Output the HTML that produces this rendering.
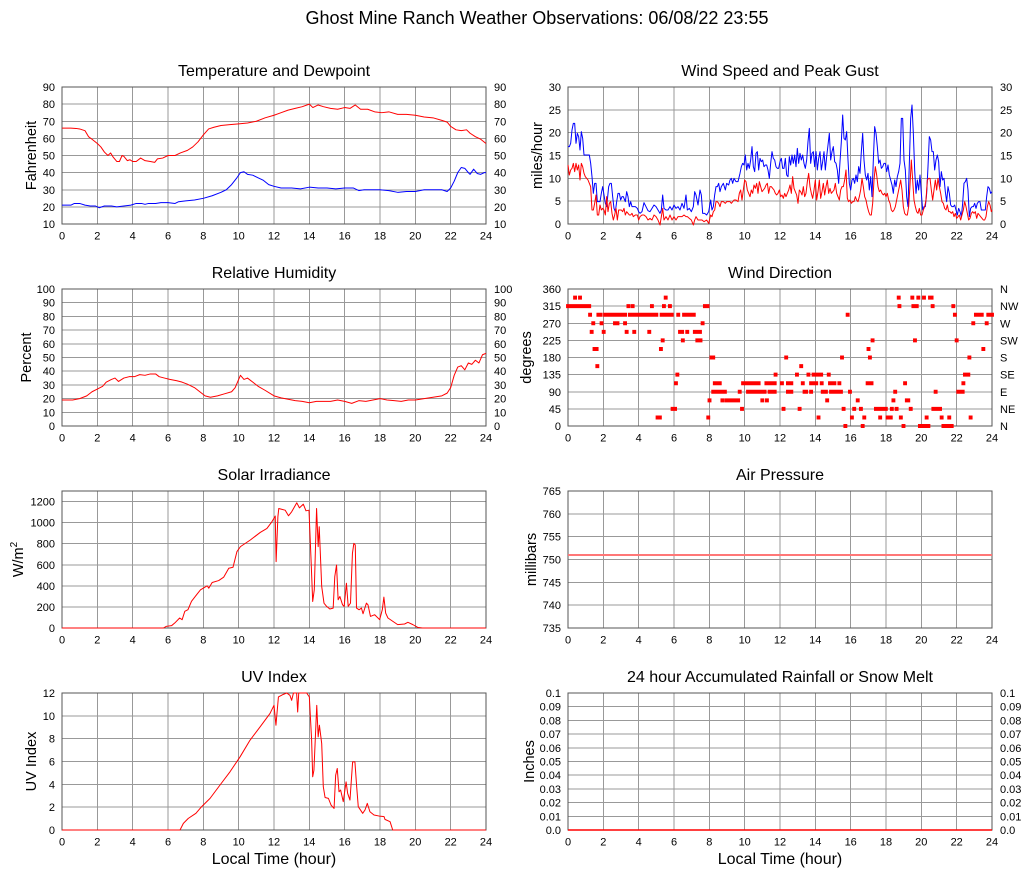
<!DOCTYPE html>
<html>
<head>
<meta charset="utf-8">
<style>
html,body{margin:0;padding:0;background:#fff;}
svg{display:block;}
text{font-family:"Liberation Sans",Arial,Helvetica,sans-serif;fill:#000;}
.g{stroke:#999;stroke-width:1;fill:none;shape-rendering:crispEdges;}
.f{stroke:#555;stroke-width:1;fill:none;shape-rendering:crispEdges;}
.d{fill:none;stroke-width:1;vector-effect:non-scaling-stroke;stroke-linejoin:round;}
.sq{fill:none;stroke:#f00;stroke-width:4;vector-effect:non-scaling-stroke;}
</style>
</head>
<body>
<svg width="1027" height="878" viewBox="0 0 1027 878" xmlns="http://www.w3.org/2000/svg">
<rect width="1027" height="878" fill="#fff"/>
<defs>
<path id="vgL" d="M97.33 0V137M132.67 0V137M168 0V137M203.33 0V137M238.67 0V137M274 0V137M309.33 0V137M344.67 0V137M380 0V137M415.33 0V137M450.67 0V137"/>
</defs>

<text x="537" y="24" font-size="18" text-anchor="middle">Ghost Mine Ranch Weather Observations: 06/08/22 23:55</text>

<g font-size="16" text-anchor="middle">
<text x="274" y="76">Temperature and Dewpoint</text>
<text x="780" y="76">Wind Speed and Peak Gust</text>
<text x="274" y="278">Relative Humidity</text>
<text x="780" y="278">Wind Direction</text>
<text x="274" y="480">Solar Irradiance</text>
<text x="780" y="480">Air Pressure</text>
<text x="274" y="682">UV Index</text>
<text x="780" y="682">24 hour Accumulated Rainfall or Snow Melt</text>
<text x="274" y="864">Local Time (hour)</text>
<text x="780" y="864">Local Time (hour)</text>
</g>

<g font-size="14.5" text-anchor="middle">
<text transform="translate(36 155.5) rotate(-90)">Fahrenheit</text>
<text transform="translate(31 357.5) rotate(-90)">Percent</text>
<text transform="translate(23 559.5) rotate(-90)">W/m<tspan dy="-6" font-size="10">2</tspan></text>
<text transform="translate(36 761.5) rotate(-90)">UV Index</text>
<text transform="translate(542 155.5) rotate(-90)">miles/hour</text>
<text transform="translate(531 357.5) rotate(-90)">degrees</text>
<text transform="translate(536 559.5) rotate(-90)">millibars</text>
<text transform="translate(534 761.5) rotate(-90)">Inches</text>
</g>

<g class="g">
<use href="#vgL" x="0" y="87"/>
<use href="#vgL" x="0" y="289"/>
<use href="#vgL" x="0" y="491"/>
<use href="#vgL" x="0" y="693"/>
<use href="#vgL" x="506" y="87"/>
<use href="#vgL" x="506" y="289"/>
<use href="#vgL" x="506" y="491"/>
<use href="#vgL" x="506" y="693"/>
</g>
<g class="g">
<path d="M62 104.125H486M62 121.25H486M62 138.375H486M62 155.5H486M62 172.625H486M62 189.75H486M62 206.875H486"/>
<path d="M62 302.7H486M62 316.4H486M62 330.1H486M62 343.8H486M62 357.5H486M62 371.2H486M62 384.9H486M62 398.6H486M62 412.3H486"/>
<path d="M62 501.54H486M62 522.62H486M62 543.69H486M62 564.77H486M62 585.85H486M62 606.92H486"/>
<path d="M62 715.83H486M62 738.67H486M62 761.5H486M62 784.33H486M62 807.17H486"/>
<path d="M568 109.83H992M568 132.67H992M568 155.5H992M568 178.33H992M568 201.17H992"/>
<path d="M568 306.125H992M568 323.25H992M568 340.375H992M568 357.5H992M568 374.625H992M568 391.75H992M568 408.875H992"/>
<path d="M568 513.83H992M568 536.67H992M568 559.5H992M568 582.33H992M568 605.17H992"/>
<path d="M568 706.7H992M568 720.4H992M568 734.1H992M568 747.8H992M568 761.5H992M568 775.2H992M568 788.9H992M568 802.6H992M568 816.3H992"/>
</g>
<g class="f">
<rect x="62" y="87" width="424" height="137"/>
<rect x="62" y="289" width="424" height="137"/>
<rect x="62" y="491" width="424" height="137"/>
<rect x="62" y="693" width="424" height="137"/>
<rect x="568" y="87" width="424" height="137"/>
<rect x="568" y="289" width="424" height="137"/>
<rect x="568" y="491" width="424" height="137"/>
<rect x="568" y="693" width="424" height="137"/>
</g>

<g font-size="11" text-anchor="middle">
<text x="62" y="239.5">0</text><text x="97.3" y="239.5">2</text><text x="132.7" y="239.5">4</text><text x="168" y="239.5">6</text><text x="203.3" y="239.5">8</text><text x="238.7" y="239.5">10</text><text x="274" y="239.5">12</text><text x="309.3" y="239.5">14</text><text x="344.7" y="239.5">16</text><text x="380" y="239.5">18</text><text x="415.3" y="239.5">20</text><text x="450.7" y="239.5">22</text><text x="486" y="239.5">24</text>
<text x="568" y="239.5">0</text><text x="603.3" y="239.5">2</text><text x="638.7" y="239.5">4</text><text x="674" y="239.5">6</text><text x="709.3" y="239.5">8</text><text x="744.7" y="239.5">10</text><text x="780" y="239.5">12</text><text x="815.3" y="239.5">14</text><text x="850.7" y="239.5">16</text><text x="886" y="239.5">18</text><text x="921.3" y="239.5">20</text><text x="956.7" y="239.5">22</text><text x="992" y="239.5">24</text>
<text x="62" y="441.5">0</text><text x="97.3" y="441.5">2</text><text x="132.7" y="441.5">4</text><text x="168" y="441.5">6</text><text x="203.3" y="441.5">8</text><text x="238.7" y="441.5">10</text><text x="274" y="441.5">12</text><text x="309.3" y="441.5">14</text><text x="344.7" y="441.5">16</text><text x="380" y="441.5">18</text><text x="415.3" y="441.5">20</text><text x="450.7" y="441.5">22</text><text x="486" y="441.5">24</text>
<text x="568" y="441.5">0</text><text x="603.3" y="441.5">2</text><text x="638.7" y="441.5">4</text><text x="674" y="441.5">6</text><text x="709.3" y="441.5">8</text><text x="744.7" y="441.5">10</text><text x="780" y="441.5">12</text><text x="815.3" y="441.5">14</text><text x="850.7" y="441.5">16</text><text x="886" y="441.5">18</text><text x="921.3" y="441.5">20</text><text x="956.7" y="441.5">22</text><text x="992" y="441.5">24</text>
<text x="62" y="643.5">0</text><text x="97.3" y="643.5">2</text><text x="132.7" y="643.5">4</text><text x="168" y="643.5">6</text><text x="203.3" y="643.5">8</text><text x="238.7" y="643.5">10</text><text x="274" y="643.5">12</text><text x="309.3" y="643.5">14</text><text x="344.7" y="643.5">16</text><text x="380" y="643.5">18</text><text x="415.3" y="643.5">20</text><text x="450.7" y="643.5">22</text><text x="486" y="643.5">24</text>
<text x="568" y="643.5">0</text><text x="603.3" y="643.5">2</text><text x="638.7" y="643.5">4</text><text x="674" y="643.5">6</text><text x="709.3" y="643.5">8</text><text x="744.7" y="643.5">10</text><text x="780" y="643.5">12</text><text x="815.3" y="643.5">14</text><text x="850.7" y="643.5">16</text><text x="886" y="643.5">18</text><text x="921.3" y="643.5">20</text><text x="956.7" y="643.5">22</text><text x="992" y="643.5">24</text>
<text x="62" y="845.5">0</text><text x="97.3" y="845.5">2</text><text x="132.7" y="845.5">4</text><text x="168" y="845.5">6</text><text x="203.3" y="845.5">8</text><text x="238.7" y="845.5">10</text><text x="274" y="845.5">12</text><text x="309.3" y="845.5">14</text><text x="344.7" y="845.5">16</text><text x="380" y="845.5">18</text><text x="415.3" y="845.5">20</text><text x="450.7" y="845.5">22</text><text x="486" y="845.5">24</text>
<text x="568" y="845.5">0</text><text x="603.3" y="845.5">2</text><text x="638.7" y="845.5">4</text><text x="674" y="845.5">6</text><text x="709.3" y="845.5">8</text><text x="744.7" y="845.5">10</text><text x="780" y="845.5">12</text><text x="815.3" y="845.5">14</text><text x="850.7" y="845.5">16</text><text x="886" y="845.5">18</text><text x="921.3" y="845.5">20</text><text x="956.7" y="845.5">22</text><text x="992" y="845.5">24</text>
</g>

<g font-size="11" text-anchor="end">
<text x="55" y="228">10</text><text x="55" y="210.9">20</text><text x="55" y="193.75">30</text><text x="55" y="176.6">40</text><text x="55" y="159.5">50</text><text x="55" y="142.4">60</text><text x="55" y="125.25">70</text><text x="55" y="108.1">80</text><text x="55" y="91">90</text>
<text x="55" y="430">0</text><text x="55" y="416.3">10</text><text x="55" y="402.6">20</text><text x="55" y="388.9">30</text><text x="55" y="375.2">40</text><text x="55" y="361.5">50</text><text x="55" y="347.8">60</text><text x="55" y="334.1">70</text><text x="55" y="320.4">80</text><text x="55" y="306.7">90</text><text x="55" y="293">100</text>
<text x="55" y="632">0</text><text x="55" y="610.9">200</text><text x="55" y="589.85">400</text><text x="55" y="568.8">600</text><text x="55" y="547.7">800</text><text x="55" y="526.6">1000</text><text x="55" y="505.5">1200</text>
<text x="55" y="834">0</text><text x="55" y="811.2">2</text><text x="55" y="788.3">4</text><text x="55" y="765.5">6</text><text x="55" y="742.7">8</text><text x="55" y="719.8">10</text><text x="55" y="697">12</text>
<text x="561" y="228">0</text><text x="561" y="205.2">5</text><text x="561" y="182.3">10</text><text x="561" y="159.5">15</text><text x="561" y="136.7">20</text><text x="561" y="113.8">25</text><text x="561" y="91">30</text>
<text x="561" y="430">0</text><text x="561" y="412.9">45</text><text x="561" y="395.75">90</text><text x="561" y="378.6">135</text><text x="561" y="361.5">180</text><text x="561" y="344.4">225</text><text x="561" y="327.25">270</text><text x="561" y="310.1">315</text><text x="561" y="293">360</text>
<text x="561" y="632">735</text><text x="561" y="609.2">740</text><text x="561" y="586.3">745</text><text x="561" y="563.5">750</text><text x="561" y="540.7">755</text><text x="561" y="517.8">760</text><text x="561" y="495">765</text>
<text x="561" y="834">0.0</text><text x="561" y="820.3">0.01</text><text x="561" y="806.6">0.02</text><text x="561" y="792.9">0.03</text><text x="561" y="779.2">0.04</text><text x="561" y="765.5">0.05</text><text x="561" y="751.8">0.06</text><text x="561" y="738.1">0.07</text><text x="561" y="724.4">0.08</text><text x="561" y="710.7">0.09</text><text x="561" y="697">0.1</text>
</g>

<g font-size="11" text-anchor="start">
<text x="494" y="228">10</text><text x="494" y="210.9">20</text><text x="494" y="193.75">30</text><text x="494" y="176.6">40</text><text x="494" y="159.5">50</text><text x="494" y="142.4">60</text><text x="494" y="125.25">70</text><text x="494" y="108.1">80</text><text x="494" y="91">90</text>
<text x="494" y="430">0</text><text x="494" y="416.3">10</text><text x="494" y="402.6">20</text><text x="494" y="388.9">30</text><text x="494" y="375.2">40</text><text x="494" y="361.5">50</text><text x="494" y="347.8">60</text><text x="494" y="334.1">70</text><text x="494" y="320.4">80</text><text x="494" y="306.7">90</text><text x="494" y="293">100</text>
<text x="1000" y="228">0</text><text x="1000" y="205.2">5</text><text x="1000" y="182.3">10</text><text x="1000" y="159.5">15</text><text x="1000" y="136.7">20</text><text x="1000" y="113.8">25</text><text x="1000" y="91">30</text>
<text x="1000" y="430">N</text><text x="1000" y="412.9">NE</text><text x="1000" y="395.75">E</text><text x="1000" y="378.6">SE</text><text x="1000" y="361.5">S</text><text x="1000" y="344.4">SW</text><text x="1000" y="327.25">W</text><text x="1000" y="310.1">NW</text><text x="1000" y="293">N</text>
<text x="1000" y="834">0.0</text><text x="1000" y="820.3">0.01</text><text x="1000" y="806.6">0.02</text><text x="1000" y="792.9">0.03</text><text x="1000" y="779.2">0.04</text><text x="1000" y="765.5">0.05</text><text x="1000" y="751.8">0.06</text><text x="1000" y="738.1">0.07</text><text x="1000" y="724.4">0.08</text><text x="1000" y="710.7">0.09</text><text x="1000" y="697">0.1</text>
</g>

<g transform="translate(62 241.125) scale(17.6667 -1.7125)">
<polyline class="d" stroke="#00f" points="0,21 0.5,21 0.7,22 1,22 1.3,21 1.6,20.5 1.9,20.5 2.1,19.5 2.4,20.5 2.8,20.5 3.1,20 3.5,20.5 3.9,21 4.2,22 4.5,22 4.7,21.5 4.9,22 5.3,22 5.6,22.5 6,22.5 6.4,22 6.6,23 7,23.5 7.5,24 8,25 8.5,26.5 9,28.5 9.3,30 9.6,33 9.9,37 10.1,40 10.3,40.5 10.5,39 10.8,38.5 11.1,37 11.4,35.5 11.7,33 12,32 12.4,31 13,31 13.5,30.5 14,31.5 14.5,31 15,31 15.5,30.5 16,31 16.5,31 16.8,29.5 17.1,30 17.5,30 18,30 18.5,29.5 19,28.5 19.5,29 20,29 20.5,30 21,30 21.5,30 21.8,29 22,31 22.2,35 22.4,40 22.6,43 22.8,42.5 23,40 23.1,39 23.3,42 23.5,39.5 23.7,39 23.9,40 24,40"/>
<polyline class="d" stroke="#f00" points="0,66 0.5,66 0.8,65.8 1,65.5 1.3,64.5 1.5,61 1.7,59.5 2,57 2.2,55 2.4,52 2.6,50 2.75,51.5 2.9,49 3.1,46.5 3.25,46.5 3.4,50 3.5,49.5 3.7,47 3.85,47.5 4,46.5 4.2,46.5 4.45,48.5 4.7,47 5,46.5 5.25,46 5.4,48 5.7,48.5 6,50 6.4,50 6.7,51.5 7.1,53 7.4,55 7.7,58 8,62 8.3,65.5 8.6,66.5 9,67.5 9.5,68 10,68.5 10.5,69 11,70 11.5,72 12,73.5 12.4,75 12.8,76.5 13.2,77.5 13.6,78.5 14,80 14.2,78 14.5,79.5 14.8,78.5 15.2,77.5 15.6,77 16,78 16.3,77.5 16.6,79.5 16.9,77 17.3,77 17.7,75.5 18.1,75 18.5,75.5 19,74 19.5,74 20,73.5 20.5,72.5 21,72 21.5,70.5 21.8,69.5 22,67 22.3,65 22.6,64.5 22.9,65 23.1,63 23.4,61 23.7,59.5 24,57"/>
</g>

<g transform="translate(62 426) scale(17.6667 -1.37)">
<polyline class="d" stroke="#f00" points="0,19 0.6,19 1,20 1.4,22 1.7,25 2,27 2.3,29 2.5,32 2.8,34 3,35 3.2,32.5 3.5,35 3.8,36 4.1,36 4.4,37.5 4.7,37 5,38 5.3,38 5.5,36 5.8,35 6.1,34 6.5,33 6.8,32 7.1,30.5 7.5,28 7.8,25 8.1,22 8.4,21 8.8,22 9.2,23.5 9.6,25 9.8,28 10,34 10.1,37 10.3,34 10.5,35 10.8,32 11.1,29 11.5,26 12,22 12.4,20.5 12.8,19.5 13.2,18.5 13.6,18 14,17 14.4,18 14.8,18 15.2,18 15.6,19 16,18 16.4,16.5 16.8,18.5 17.2,18 17.6,19 18,20 18.4,19 18.8,18.5 19.2,18 19.6,19 20,19 20.5,20 21,21 21.5,22 21.8,24 22,28 22.2,37 22.4,43 22.6,44 22.8,41 23,46 23.2,45 23.4,48 23.6,46 23.8,52 24,53"/>
</g>

<g transform="translate(62 628) scale(17.6667 -0.105385)">
<polyline class="d" stroke="#f00" points="0,0 5.74,0 5.91,16 6.2,22 6.38,47 6.66,95 6.8,79 6.95,158 7.13,174 7.33,253 7.62,316 7.84,362 8.22,400 8.31,378 8.5,432 8.87,450 9.15,482 9.44,567 9.68,576 9.9,724 10.1,772 10.66,835 11.22,907 11.6,945 11.88,1008 12.07,1062 12.12,630 12.22,1055 12.27,1134 12.4,1128 12.63,1118 12.82,1065 13,1103 13.29,1188 13.44,1140 13.66,1175 13.81,1112 13.98,1118 14.09,677 14.19,252 14.28,362 14.41,1134 14.5,772 14.56,961 14.7,394 14.83,236 14.98,205 15.16,180 15.35,189 15.44,488 15.54,598 15.63,268 15.73,299 15.88,220 15.97,205 16.1,425 16.2,205 16.33,236 16.44,709 16.52,803 16.6,788 16.67,189 16.82,173 16.95,189 17.04,135 17.23,236 17.32,220 17.46,110 17.7,126 17.98,79 18.13,173 18.22,293 18.32,142 18.45,95 18.73,63 19,32 19.39,38 19.58,54 19.86,32 20.13,6 20.4,0 24,0"/>
</g>

<g transform="translate(62 830) scale(17.6667 -11.4167)">
<polyline class="d" stroke="#f00" points="0,0 6.68,0 6.87,0.58 7.15,1.02 7.58,1.46 7.9,2.04 8.38,2.77 8.94,3.93 9.51,5.1 10.08,6.41 10.64,7.86 11.21,9.03 11.77,10.2 12,10.92 12.11,9.18 12.25,11.65 12.53,11.88 12.72,12 12.9,11.8 13,11.36 13.1,12 13.28,12 13.34,10.34 13.4,12 13.85,12 14,11.65 14.13,7.86 14.19,4.66 14.26,5.24 14.42,10.92 14.5,8.16 14.57,9.18 14.7,7.57 14.79,3.79 14.89,2.85 15.08,2.77 15.23,2.18 15.4,1.89 15.49,4.8 15.58,5.39 15.68,3.35 15.77,3.5 15.92,2.48 16.08,4.22 16.17,3.2 16.3,2.62 16.45,5.97 16.58,5.97 16.68,3.79 16.77,2.04 17.02,1.46 17.15,1.75 17.28,2.33 17.43,1.6 17.66,1.31 17.96,1.22 18.23,1.17 18.28,0.93 18.57,0.73 18.72,0 24,0"/>
</g>

<g transform="translate(560 80) scale(0.333333)">
<polyline class="d" stroke="#00f" points="24,200 28,200 32,190 36,150 40,130 44,130 48,190 52,160 56,170 60,210 64,155 68,175 72,225 80,225 88,225 92,250 96,290 100,340 104,310 108,310 112,365 116,365 120,365 124,340 128,320 132,345 136,370 140,380 146,320 150,310 154,310 158,350 162,385 166,395 170,365 174,340 178,340 182,360 186,350 190,350 196,365 200,335 204,350 208,380 212,365 216,380 220,380 226,380 232,385 236,395 240,400 246,395 252,368 258,380 264,392 270,395 276,385 282,375 288,380 294,390 300,400 304,390 308,345 312,385 318,390 324,390 330,380 336,390 342,375 348,385 354,380 360,390 366,370 372,385 378,345 382,390 388,385 394,395 400,380 404,335 408,345 414,375 420,330 424,345 428,400 434,400 440,405 446,395 452,360 456,390 460,380 464,345 468,320 472,320 476,310 480,335 484,320 490,310 496,330 500,310 506,315 510,300 514,295 518,310 522,295 528,305 534,305 540,280 544,260 548,250 552,255 556,225 560,270 564,250 568,265 572,240 576,200 580,260 584,275 588,220 592,215 596,270 600,235 604,245 608,240 612,260 616,255 620,255 624,270 628,295 632,250 636,215 640,235 644,240 648,260 652,265 656,265 660,245 664,235 668,265 672,265 676,235 680,285 684,290 688,230 692,255 696,225 700,250 704,225 708,260 712,205 716,250 720,220 724,240 728,225 732,250 736,265 740,240 744,185 748,145 752,250 756,220 760,215 764,260 768,215 772,270 776,235 780,215 784,270 788,245 792,215 796,270 800,230 804,195 808,160 812,240 816,215 820,200 824,245 828,250 832,270 836,310 840,245 844,185 848,105 852,175 856,180 860,155 864,240 868,310 872,330 876,300 880,295 884,310 888,285 892,305 896,260 900,280 904,215 908,160 912,240 916,285 920,300 924,280 928,330 932,290 936,350 940,240 944,140 948,160 952,200 956,250 960,240 964,265 968,260 972,250 976,250 980,275 984,255 988,285 992,300 996,315 1000,340 1004,300 1008,320 1012,290 1016,275 1020,250 1024,115 1028,115 1032,240 1036,270 1040,350 1044,380 1048,250 1052,115 1056,75 1060,160 1064,270 1068,340 1072,300 1076,330 1080,285 1084,340 1088,390 1092,380 1096,380 1100,340 1104,260 1108,170 1112,180 1116,215 1120,215 1124,270 1128,240 1132,225 1136,245 1140,320 1144,275 1148,300 1152,295 1156,335 1160,365 1164,320 1168,340 1172,375 1176,380 1180,380 1184,375 1188,390 1192,405 1196,385 1200,395 1204,410 1208,370 1212,310 1216,305 1220,295 1224,330 1228,410 1232,385 1236,380 1240,380 1244,370 1248,385 1252,370 1256,365 1260,365 1264,390 1268,390 1272,390 1276,390 1280,350 1284,320 1288,325 1292,340 1296,335"/>
<polyline class="d" stroke="#f00" points="24,255 28,285 32,270 36,265 40,250 44,275 48,250 52,270 56,255 60,300 64,250 68,260 72,280 76,290 80,295 84,300 88,310 92,320 96,390 100,390 104,370 108,345 112,405 116,405 120,375 124,390 128,385 132,390 136,405 140,350 144,395 148,370 152,365 156,400 160,420 164,405 168,385 172,420 176,390 180,390 184,390 188,395 192,385 196,405 200,395 204,400 208,405 212,405 216,400 220,410 226,405 232,405 236,420 240,410 246,405 252,405 258,410 264,420 270,415 276,420 282,405 288,410 294,420 300,435 304,410 308,385 312,420 318,410 324,420 330,405 336,420 342,410 348,420 354,410 360,410 366,410 372,405 378,410 382,410 388,415 394,420 400,435 404,420 408,410 414,420 420,420 426,420 432,425 440,420 446,430 452,405 456,410 460,395 464,390 468,365 472,365 476,370 480,380 484,365 490,365 496,370 500,365 506,365 510,365 514,370 518,365 522,360 528,360 534,365 538,340 542,330 546,360 550,330 554,300 558,305 562,330 566,340 570,350 574,330 578,340 582,315 586,325 590,310 594,340 598,305 602,320 606,335 610,330 614,325 618,315 622,310 626,340 630,320 634,320 638,325 642,330 646,340 650,345 654,340 658,330 662,350 666,345 670,355 674,340 678,350 682,340 686,330 690,315 694,340 698,290 702,325 706,335 710,345 714,370 718,330 722,335 726,345 730,320 734,350 738,340 742,305 746,280 750,320 754,340 758,355 762,330 766,300 770,360 774,335 778,300 782,355 786,335 790,310 794,345 798,320 802,300 806,340 810,325 814,340 818,335 822,330 826,310 830,340 834,350 838,360 842,330 846,320 850,320 854,300 858,270 862,355 866,365 870,360 874,370 878,365 882,365 886,350 890,360 894,365 898,350 902,330 906,295 910,320 914,350 918,360 922,380 926,395 930,405 934,405 938,370 942,300 946,260 950,285 954,320 958,335 962,330 966,340 970,345 974,340 978,350 982,340 986,360 990,370 994,390 998,395 1002,390 1006,380 1010,360 1014,340 1018,320 1022,300 1026,330 1030,380 1034,400 1038,405 1042,405 1046,380 1050,315 1054,240 1058,300 1062,360 1066,380 1070,395 1074,400 1078,385 1082,405 1086,405 1090,390 1094,380 1098,360 1102,300 1106,295 1110,295 1114,330 1118,360 1122,330 1126,300 1130,330 1134,295 1138,320 1142,340 1146,365 1150,370 1154,385 1158,390 1162,375 1166,395 1170,395 1174,400 1178,395 1182,410 1186,400 1190,415 1194,410 1198,405 1202,420 1206,405 1210,390 1214,365 1218,380 1222,400 1226,420 1230,415 1234,400 1238,395 1242,400 1246,395 1250,415 1254,400 1258,405 1262,410 1266,415 1270,420 1274,420 1278,410 1282,380 1286,365 1290,375 1294,395 1296,390"/>
</g>

<g transform="translate(568 426) scale(17.6667 -8.5625)">
<path class="sq" d="M-0.11 14H1.31M3.31 14H3.53M3.55 14H3.77M4.64 14H4.86M5.32 14H5.54M5.66 14H5.88M7.64 14H8.01M18.65 14H18.87M19.44 14H19.85M20.53 14H20.75M21.7 14H21.92
M0.29 15H0.51M0.57 15H0.79M5.42 15H5.64M18.61 15H18.83M19.38 15H19.6M19.72 15H19.94M20.04 15H20.26M20.38 15H20.69
M1.14 13H1.36M1.61 13H1.96M1.99 13H2.77M2.74 13H3.34M3.39 13H3.71M3.69 13H5.11M5.19 13H5.54M5.47 13H5.98M6.13 13H6.35M6.46 13H7.23M15.72 13H15.94M21.79 13H22.01M22.98 13H23.53M23.68 13H24.11
M1.32 12H1.54M1.79 12H2.01M2.55 12H2.91M3.12 12H3.34M7.51 12H7.73M22.83 12H23.05M23.59 12H23.81
M1.23 11H1.45M1.91 11H2.13M3.21 11H3.43M3.64 11H3.86M4.49 11H4.71M6.23 11H6.57M6.64 11H6.86M7.07 11H7.58
M5.25 10H5.47M6.39 10H6.61M7.21 10H7.61M17.13 10H17.35M19.53 10H19.75M21.89 10H22.11
M1.39 9H1.73M5.15 9H5.37M16.9 9H17.12M23.4 9H23.62
M8.01 8H8.33M12.24 8H12.46M15.4 8H15.62M16.98 8H17.2M22.61 8H22.83
M1.55 7H1.77M13.09 7H13.31
M6.08 6H6.3M11.64 6H11.86M12.85 6H13.07M13.5 6H13.72M13.79 6H14.44M14.65 6H14.87M22.36 6H22.77
M6 5H6.22M8.2 5H8.7M9.8 5H10.9M11.12 5H11.81M12 5H12.22M12.34 5H12.75M13.18 5H13.4M13.65 5H14.16M14.25 5H14.47M14.72 5H15.19M15.25 5H15.47M16.85 5H17.07M17.07 5H17.29M18.97 5H19.19M22.27 5H22.49
M8.11 4H8.99M9.61 4H9.83M10.08 4H11.24M11.3 4H11.81M12.34 4H12.75M13.28 4H13.59M13.65 4H13.87M14.31 4H14.71M14.78 4H15.56M15.85 4H16.07M18.41 4H18.63M20.7 4H20.92M21.98 4H22.45
M7.9 3H8.12M8.63 3H8.85M8.86 3H9.74M10.89 3H11.11M11.15 3H11.37M14.56 3H14.78M16.29 3H16.51M18.31 3H18.53M19.07 3H19.37
M5.81 2H6.17M9.74 2H9.96M12.09 2H12.31M13 2H13.22M15.49 2H15.71M16.09 2H16.31M16.47 2H16.69M17.32 2H18.1M18.22 2H18.44M18.49 2H18.71M19.29 2H19.51M20.57 2H21.17
M4.96 1H5.31M7.83 1H8.05M14.07 1H14.29M15.96 1H16.18M16.66 1H16.88M17.56 1H17.78M17.98 1H18.38M18.73 1H18.95M20.19 1H20.41M21.04 1H21.26M21.47 1H21.69M22.68 1H22.9
M15.59 0H15.81M16.57 0H16.79M18.88 0H19.1M19.81 0H20.51M21.14 0H21.64M21.61 0H21.83"/>
</g>

<path d="M568 555H992" stroke="#fbb" stroke-width="2" fill="none"/>
<path d="M568 555H992" stroke="#f33" stroke-width="1" fill="none"/>

<path d="M568 830H992" stroke="#f00" stroke-width="1.5" fill="none"/>
</svg>
</body>
</html>
